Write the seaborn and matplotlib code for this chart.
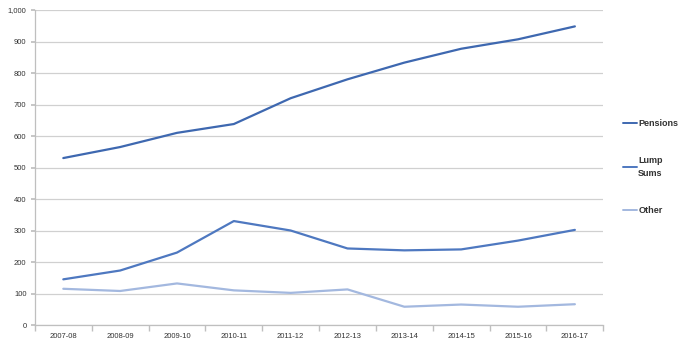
import matplotlib
matplotlib.use("Agg")
import matplotlib.pyplot as plt
import seaborn as sns
import pandas as pd
import numpy as np

years = ["2007-08", "2008-09", "2009-10", "2010-11", "2011-12",
         "2012-13", "2013-14", "2014-15", "2015-16", "2016-17"]
pensions = [530, 565, 610, 638, 720, 780, 833, 877, 907, 948]
lump_sums = [145, 173, 230, 330, 300, 243, 237, 240, 268, 302]
other = [115, 108, 132, 110, 102, 113, 58, 65, 58, 66]
series_names = ["Pensions", "Lump\nSums", "Other"]
colors = ["#3E68B0", "#4E78C0", "#A3B8DF"]

df = pd.DataFrame({"Year": years, series_names[0]: pensions,
                   series_names[1]: lump_sums, series_names[2]: other})
long = df.melt(id_vars="Year", var_name="Series", value_name="Value")

sns.set_theme(style="white")
plt.rcParams['font.family'] = ['Liberation Sans', 'DejaVu Sans']

fig = plt.figure(figsize=(6.84, 3.5), dpi=100)
ax = fig.add_axes([0.051, 0.0714, 0.831, 0.9])

sns.lineplot(data=long, x="Year", y="Value", hue="Series",
             palette=colors, linewidth=1.6, ax=ax, sort=False)

ax.set_ylim(0, 1000)
ax.set_xlim(-0.5, len(years) - 0.5)
ax.set_yticks(np.arange(0, 1001, 100))
ax.set_yticklabels([f"{v:,}" for v in range(0, 1001, 100)])
ax.yaxis.grid(True, color="#D0D0D0", linewidth=0.9)
ax.xaxis.grid(False)
ax.set_xlabel("")
ax.set_ylabel("")
ax.set_xticks(range(len(years)))
ax.set_xticklabels(years)
ax.set_xticks(np.arange(-0.5, len(years), 1), minor=True)
ax.tick_params(axis="x", which="major", length=0, labelsize=5.5, colors="#333333", pad=6)
ax.tick_params(axis="x", which="minor", length=4, color="#BFBFBF", bottom=True)
ax.tick_params(axis="y", which="major", length=3, color="#BFBFBF", labelsize=5.5,
               colors="#333333", left=True, pad=3)
for s in ["top", "right"]:
    ax.spines[s].set_visible(False)
for s in ["left", "bottom"]:
    ax.spines[s].set_color("#BFBFBF")
    ax.spines[s].set_linewidth(0.9)

leg = ax.legend(loc="upper left", bbox_to_anchor=(1.02, 0.68), frameon=False,
                handlelength=1.6, handletextpad=0.1, labelspacing=3.1,
                prop={"size": 6.5, "weight": "bold"})
for t in leg.get_texts():
    t.set_color("#333333")
    t.set_linespacing(1.6)
    t.set_multialignment("left")
for h in leg.legend_handles:
    h.set_linewidth(1.4)

fig.savefig("out.png", dpi=100)
